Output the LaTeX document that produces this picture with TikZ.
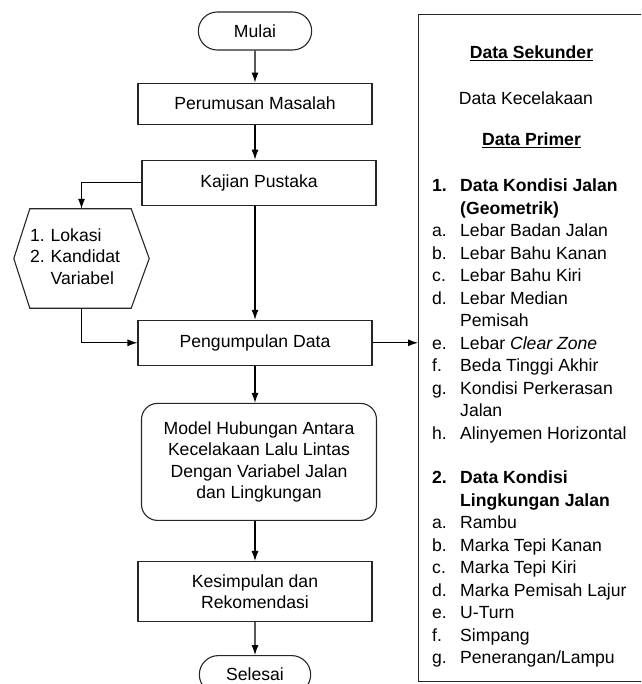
\documentclass[tikz,border=0pt]{standalone}
\usepackage{fontspec}
\setmainfont{Liberation Sans}
\usetikzlibrary{shapes.misc, arrows.meta, positioning}
\tikzstyle{boxes} = [rectangle, minimum width=234pt, minimum height=45pt, text centered, align=center, draw=black!85, line width=1.1pt]
\tikzstyle{terminal} = [rounded rectangle, minimum width=120pt, minimum height=38pt, text centered, draw=black!85, line width=1.1pt]
\tikzstyle{arrow} = [line width=1.1pt, ->, >={Latex[length=10pt,width=7pt]}]
\tikzstyle{listrow} = [anchor=base west, inner sep=0pt]
\newcommand{\lstrow}[2]{\makebox[28pt][l]{#1}#2}

\begin{document}
\begin{tikzpicture}[x=1pt, y=1pt, font=\fontsize{17.6}{21.5}\selectfont]
    \clip (0,0) rectangle (641,-684);
    %Main Nodes
    \node (start) [terminal] at (255,-31) {Mulai};
    \node (rumus) [boxes, minimum height=41pt, below=32pt of start] {Perumusan Masalah};
    \node (kajian) [boxes, below=35pt of rumus, xshift=4pt] {Kajian Pustaka};
    \node (kumpul) [boxes, below=114pt of kajian, xshift=-4pt] {Pengumpulan Data};
    \node (model) [boxes, rounded corners=16pt, minimum width=235pt, minimum height=117pt, below=37pt of kumpul, xshift=4pt] {Model Hubungan Antara\\Kecelakaan Lalu Lintas\\Dengan Variabel Jalan\\dan Lingkungan};
    \node (simpul) [boxes, minimum height=60pt, below=40pt of model, xshift=-4pt] {Kesimpulan dan\\Rekomendasi};
    \node (finish) [terminal, minimum width=118pt, below=33pt of simpul] {Selesai};

    %Side Nodes
    \node (hex) [minimum width=135pt, minimum height=99pt, text width=103pt, align=left, inner sep=0pt] at (81.5,-258.5) {\begin{tabular}{@{}l@{\hspace{6pt}}l@{}}1. & Lokasi\\ 2. & Kandidat\\ & Variabel\end{tabular}};
    \draw [line width=1.1pt, draw=black!85] (hex.west) -- ([xshift=16pt]hex.north west) -- ([xshift=-18pt]hex.north east) -- (hex.east) -- ([xshift=-18pt]hex.south east) -- ([xshift=16pt]hex.south west) -- cycle;
    \node (datbox) [draw=black!85, line width=1.1pt, anchor=north west, minimum width=260pt, minimum height=667pt, inner sep=0pt] at (418,-14) {};

    %Data Box Text
    \node (sekunder) [anchor=base] at (531.5,-59) {\textbf{\underline{Data Sekunder}}};
    \node (kecelakaan) [anchor=base] at (526,-105) {Data Kecelakaan};
    \node (primer) [anchor=base] at (531.5,-146) {\textbf{\underline{Data Primer}}};
    \node (r1) [listrow] at (432,-192) {\lstrow{\textbf{1.}}{\textbf{Data Kondisi Jalan}}};
    \node (r2) [listrow] at (432,-214.5) {\lstrow{}{\textbf{(Geometrik)}}};
    \node (r3) [listrow] at (432,-236.9) {\lstrow{a.}{Lebar Badan Jalan}};
    \node (r4) [listrow] at (432,-259.4) {\lstrow{b.}{Lebar Bahu Kanan}};
    \node (r5) [listrow] at (432,-281.8) {\lstrow{c.}{Lebar Bahu Kiri}};
    \node (r6) [listrow] at (432,-304.3) {\lstrow{d.}{Lebar Median}};
    \node (r7) [listrow] at (432,-326.7) {\lstrow{}{Pemisah}};
    \node (r8) [listrow] at (432,-349.2) {\lstrow{e.}{Lebar \textit{Clear Zone}}};
    \node (r9) [listrow] at (432,-371.6) {\lstrow{f.}{Beda Tinggi Akhir}};
    \node (r10) [listrow] at (432,-394.1) {\lstrow{g.}{Kondisi Perkerasan}};
    \node (r11) [listrow] at (432,-416.5) {\lstrow{}{Jalan}};
    \node (r12) [listrow] at (432,-439) {\lstrow{h.}{Alinyemen Horizontal}};
    \node (r13) [listrow] at (432,-483.9) {\lstrow{\textbf{2.}}{\textbf{Data Kondisi}}};
    \node (r14) [listrow] at (432,-506.3) {\lstrow{}{\textbf{Lingkungan Jalan}}};
    \node (r15) [listrow] at (432,-528.8) {\lstrow{a.}{Rambu}};
    \node (r16) [listrow] at (432,-551.2) {\lstrow{b.}{Marka Tepi Kanan}};
    \node (r17) [listrow] at (432,-573.7) {\lstrow{c.}{Marka Tepi Kiri}};
    \node (r18) [listrow] at (432,-596.1) {\lstrow{d.}{Marka Pemisah Lajur}};
    \node (r19) [listrow] at (432,-618.6) {\lstrow{e.}{U-Turn}};
    \node (r20) [listrow] at (432,-641) {\lstrow{f.}{Simpang}};
    \node (r21) [listrow] at (432,-663.5) {\lstrow{g.}{Penerangan/Lampu}};

    %Arrows
    \draw [arrow] (start) -- (rumus);
    \draw [arrow] (rumus) -- (rumus |- kajian.north);
    \draw [arrow] (kumpul |- kajian.south) -- (kumpul);
    \draw [arrow] (kajian.west) -| (hex.north);
    \draw [arrow] (hex.south) |- (kumpul.west);
    \draw [arrow] (kumpul.east) -- (kumpul -| datbox.west);
    \draw [arrow] (kumpul.south) -- (kumpul.south |- model.north);
    \draw [arrow] (simpul |- model.south) -- (simpul);
    \draw [arrow] (simpul) -- (finish);

\end{tikzpicture}
\end{document}
